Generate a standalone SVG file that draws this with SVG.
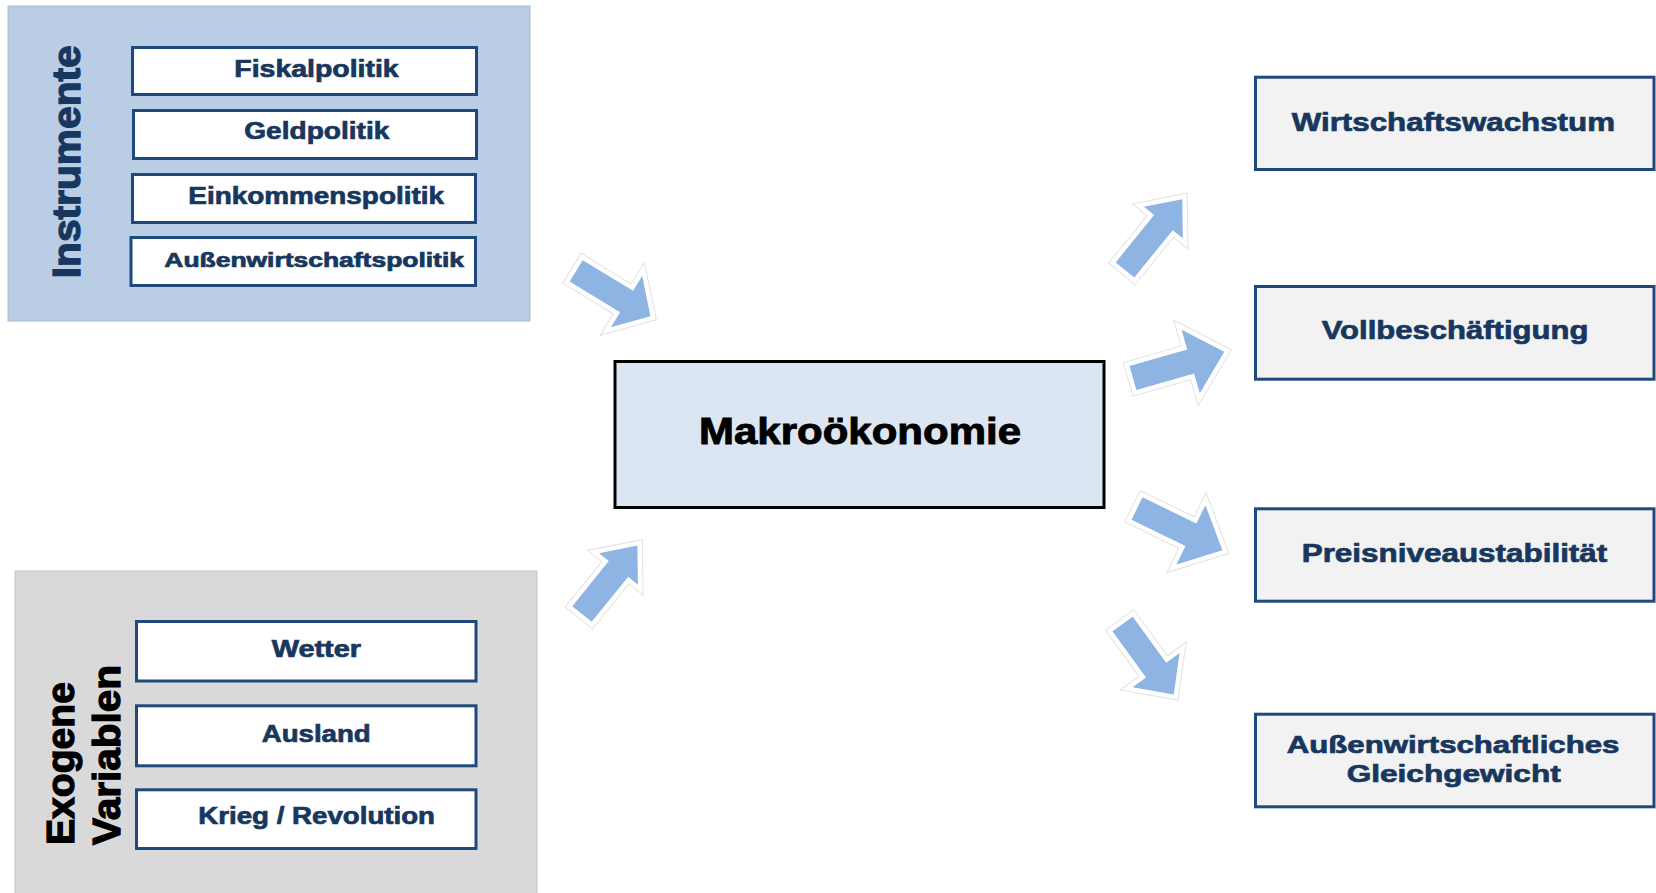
<svg xmlns="http://www.w3.org/2000/svg" xmlns:xlink="http://www.w3.org/1999/xlink" width="1656" height="893" viewBox="0 0 1656 893">
<style>
.bg{fill:#ffffff}
.panelA{fill:#b9cde5;stroke:#a9b9cc;stroke-width:1}
.panelB{fill:#d9d9d9;stroke:#c3c3c3;stroke-width:1}
.box{fill:#ffffff;stroke:#1f497d;stroke-width:3}
.goal{fill:#f2f2f2;stroke:#1f497d;stroke-width:3}
.core{fill:#dce6f2;stroke:#000000;stroke-width:3}
.t{font-family:"Liberation Sans",Arial,sans-serif;font-weight:bold;fill:#17375e;stroke:#17375e;stroke-width:0.7}
.s23{font-size:23.3px}
.s20{font-size:20px}
.s26{font-size:26px}
.s24{font-size:24px}
.big{font-family:"Liberation Sans",Arial,sans-serif;font-weight:bold;font-size:36px;fill:#000;stroke:#000;stroke-width:0.9}
.rot{font-family:"Liberation Sans",Arial,sans-serif;font-weight:bold;font-size:39px;stroke-width:1.3}
.glow{fill:none;stroke:#e2e2e2;stroke-width:11;stroke-linejoin:miter}
.halo{fill:none;stroke:#ffffff;stroke-width:9;stroke-linejoin:miter}
.arw{fill:#8eb4e3}
</style>
<defs>
<path id="a1" d="M0,-12.5 L59,-12.5 L59,-30 L87,0 L59,30 L59,12.5 L0,12.5 Z"/>
<path id="a2" d="M0,-12.5 L58,-12.5 L58,-25 L88,0 L58,25 L58,12.5 L0,12.5 Z"/>
<path id="a3" d="M0,-12 L61,-12 L61,-25 L91,0 L61,25 L61,12 L0,12 Z"/>
<path id="a4" d="M0,-12.5 L60,-12.5 L60,-33 L95,0 L60,33 L60,12.5 L0,12.5 Z"/>
<path id="a6" d="M0,-12.5 L57,-12.5 L57,-29 L87,0 L57,29 L57,12.5 L0,12.5 Z"/>
</defs>
<rect class="bg" x="0" y="0" width="1656" height="893"/>

<g id="instrumente">
<rect class="panelA" x="8" y="6" width="522" height="315"/>
<text class="rot" fill="#17375e" stroke="#17375e" transform="translate(79.5,278.3) rotate(-90)" textLength="233" lengthAdjust="spacingAndGlyphs">Instrumente</text>
</g>
<g id="fiskalpolitik">
<rect class="box" x="132.5" y="47.5" width="344" height="47"/>
<text class="t s23" x="234.3" y="76.7" textLength="164.4" lengthAdjust="spacingAndGlyphs">Fiskalpolitik</text>
</g>
<g id="geldpolitik">
<rect class="box" x="133.5" y="110.5" width="343" height="48"/>
<text class="t s23" x="244.3" y="139.3" textLength="145" lengthAdjust="spacingAndGlyphs">Geldpolitik</text>
</g>
<g id="einkommenspolitik">
<rect class="box" x="132.5" y="174.5" width="343" height="48"/>
<text class="t s23" x="188.3" y="204" textLength="255.7" lengthAdjust="spacingAndGlyphs">Einkommenspolitik</text>
</g>
<g id="aussenwirtschaftspolitik">
<rect class="box" x="131" y="237.5" width="344.5" height="48"/>
<text class="t s20" x="164.3" y="266.7" textLength="299.7" lengthAdjust="spacingAndGlyphs">Außenwirtschaftspolitik</text>
</g>

<g id="exogene">
<rect class="panelB" x="15" y="571" width="522" height="330"/>
<text class="rot" fill="#000" stroke="#000" transform="translate(74,845) rotate(-90)" textLength="163" lengthAdjust="spacingAndGlyphs">Exogene</text>
<text class="rot" fill="#000" stroke="#000" transform="translate(120,845) rotate(-90)" textLength="180" lengthAdjust="spacingAndGlyphs">Variablen</text>
</g>
<g id="wetter">
<rect class="box" x="136.5" y="621.5" width="339.5" height="59.5"/>
<text class="t s23" x="271.7" y="656.7" textLength="89.3" lengthAdjust="spacingAndGlyphs">Wetter</text>
</g>
<g id="ausland">
<rect class="box" x="136.5" y="705.8" width="339.5" height="60"/>
<text class="t s23" x="261.7" y="741.7" textLength="109" lengthAdjust="spacingAndGlyphs">Ausland</text>
</g>
<g id="krieg">
<rect class="box" x="136.5" y="789.8" width="339.5" height="58.7"/>
<text class="t s23" x="198.3" y="824" textLength="236.7" lengthAdjust="spacingAndGlyphs">Krieg / Revolution</text>
</g>

<g id="makrooekonomie">
<rect class="core" x="615" y="361.5" width="489" height="146"/>
<text class="big" x="699" y="444" textLength="322" lengthAdjust="spacingAndGlyphs">Makroökonomie</text>
</g>

<g id="wirtschaftswachstum">
<rect class="goal" x="1255.5" y="77.2" width="398.5" height="92.3"/>
<text class="t s26" x="1291.7" y="130.7" textLength="323.3" lengthAdjust="spacingAndGlyphs">Wirtschaftswachstum</text>
</g>
<g id="vollbeschaeftigung">
<rect class="goal" x="1255.5" y="286.5" width="398.5" height="92.7"/>
<text class="t s26" x="1321.7" y="339.3" textLength="266.7" lengthAdjust="spacingAndGlyphs">Vollbeschäftigung</text>
</g>
<g id="preisniveaustabilitaet">
<rect class="goal" x="1255.5" y="508.8" width="398.5" height="92.4"/>
<text class="t s26" x="1301.7" y="561.7" textLength="305.6" lengthAdjust="spacingAndGlyphs">Preisniveaustabilität</text>
</g>
<g id="aussenwirtschaftliches">
<rect class="goal" x="1255.5" y="714.2" width="398.5" height="92.6"/>
<text class="t s24" x="1286.7" y="753.3" textLength="332.7" lengthAdjust="spacingAndGlyphs">Außenwirtschaftliches</text>
<text class="t s24" x="1346.7" y="781.7" textLength="214" lengthAdjust="spacingAndGlyphs">Gleichgewicht</text>
</g>

<g id="connectors">
<g transform="translate(576.2,270.8) rotate(31.4)"><use xlink:href="#a1" class="glow"/><use xlink:href="#a1" class="halo"/><use xlink:href="#a1" class="arw"/></g>
<g transform="translate(582,614) rotate(-51)"><use xlink:href="#a2" class="glow"/><use xlink:href="#a2" class="halo"/><use xlink:href="#a2" class="arw"/></g>
<g transform="translate(1125,270) rotate(-51)"><use xlink:href="#a3" class="glow"/><use xlink:href="#a3" class="halo"/><use xlink:href="#a3" class="arw"/></g>
<g transform="translate(1133,378) rotate(-16)"><use xlink:href="#a4" class="glow"/><use xlink:href="#a4" class="halo"/><use xlink:href="#a4" class="arw"/></g>
<g transform="translate(1137,508.5) rotate(26)"><use xlink:href="#a4" class="glow"/><use xlink:href="#a4" class="halo"/><use xlink:href="#a4" class="arw"/></g>
<g transform="translate(1122.6,624) rotate(54)"><use xlink:href="#a6" class="glow"/><use xlink:href="#a6" class="halo"/><use xlink:href="#a6" class="arw"/></g>
</g>
</svg>
